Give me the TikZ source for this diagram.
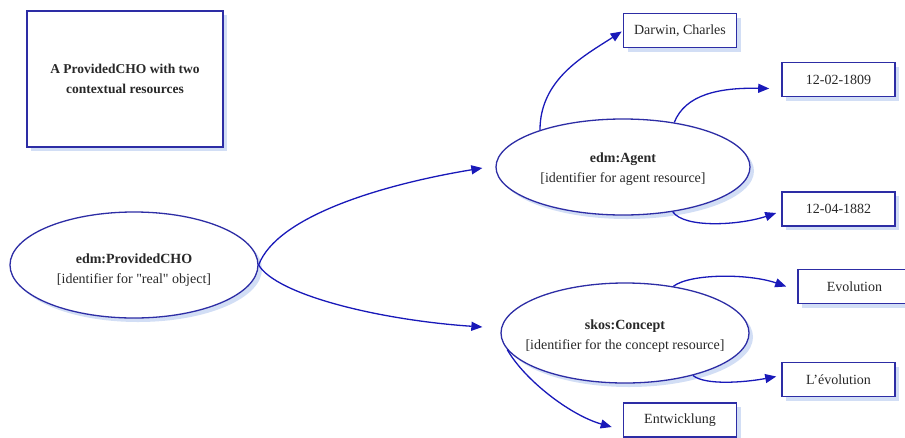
\documentclass[tikz,border=0pt]{standalone}
\usepackage{fontspec}
\setmainfont{Liberation Serif}[Ligatures=TeXOff]
\usetikzlibrary{shapes.geometric,shadows,arrows.meta}
\definecolor{edgeblue}{RGB}{45,45,165}
\definecolor{arrowblue}{RGB}{25,25,185}
\definecolor{shadowblue}{RGB}{210,222,245}
\definecolor{txt}{RGB}{40,40,40}
\newcommand{\zline}[2]{\makebox[0pt]{\rule{0pt}{#1}#2}}
\tikzset{
  litbox/.style={draw=edgeblue, line width=1.6pt, fill=white, minimum width=113pt, minimum height=34pt,
    inner sep=0pt, text=txt, font=\fontsize{14}{16}\selectfont,
    drop shadow={shadow xshift=4pt, shadow yshift=-4pt, fill=shadowblue, opacity=1}},
  resell/.style={ellipse, draw=edgeblue, line width=1.3pt, fill=white, inner sep=0pt, text=txt,
    align=center, font=\fontsize{14}{20}\selectfont,
    drop shadow={shadow xshift=4pt, shadow yshift=-4pt, fill=shadowblue, opacity=1}},
  link/.style={draw=arrowblue, line width=1.3pt, -{Triangle[length=11pt,width=9pt]}},
}
\begin{document}
\begin{tikzpicture}[x=1pt,y=-1pt]
\useasboundingbox (0,0) rectangle (905,437);
% title box
\node[draw=edgeblue, line width=1.6pt, fill=white, minimum width=196pt, minimum height=136pt,
  inner sep=0pt, align=center, text=txt, font=\fontsize{13.5}{20}\selectfont\bfseries,
  drop shadow={shadow xshift=4pt, shadow yshift=-4pt, fill=shadowblue, opacity=1}]
  (title) at (125,79) {A ProvidedCHO with two\\contextual resources};
% ellipses
\node[resell, minimum width=248pt, minimum height=106pt] (pcho) at (134,265)
  {\zline{20pt}{\textbf{edm:ProvidedCHO}}\\\zline{0pt}{[identifier for "real" object]}};
\node[resell, minimum width=254pt, minimum height=96pt] (agent) at (623,167)
  {\zline{14pt}{\textbf{edm:Agent}}\\\zline{0pt}{[identifier for agent resource]}};
\node[resell, minimum width=248pt, minimum height=100pt] (concept) at (625,333)
  {\zline{16pt}{\textbf{skos:Concept}}\\\zline{0pt}{[identifier for the concept resource]}};
% literal boxes
\node[litbox] (darwin) at (680,30.5) {Darwin, Charles};
\node[litbox] (b1809) at (838.5,79.5) {12-02-1809};
\node[litbox] (b1882) at (838.5,209) {12-04-1882};
\node[litbox] (evo) at (854.5,286.5) {Evolution};
\node[litbox] (levo) at (838.5,379.5) {L’évolution};
\node[litbox] (entw) at (680,420) {Entwicklung};
% connectors
\draw[link] (pcho.east) .. controls +(18,-48) and +(-103,17) .. ([shift={(-13,1)}]agent.west);
\draw[link] (pcho.east) .. controls +(18,30) and +(-103,-7) .. ([shift={(-18,-6)}]concept.west);
\draw[link] (agent.156) .. controls +(0,-51) and +(-37,24) .. ([shift={(-1,1)}]darwin.west);
\draw[link] (agent.41) .. controls +(11,-28) and +(-50,-1) .. ([shift={(-12,9)}]b1809.west);
\draw[link] (agent.-42) .. controls +(12,17) and +(-36,12) .. ([shift={(-5,4)}]b1882.west);
\draw[link] (concept.44) .. controls +(17,-13) and +(-37,-13) .. ([shift={(-11,0)}]evo.west);
\draw[link] (concept.-32) .. controls +(12,10) and +(-32,6) .. ([shift={(-5,-3)}]levo.west);
\draw[link] (concept.188) .. controls +(17,30) and +(-42,-12) .. ([shift={(-11,7)}]entw.west);
\end{tikzpicture}
\end{document}
